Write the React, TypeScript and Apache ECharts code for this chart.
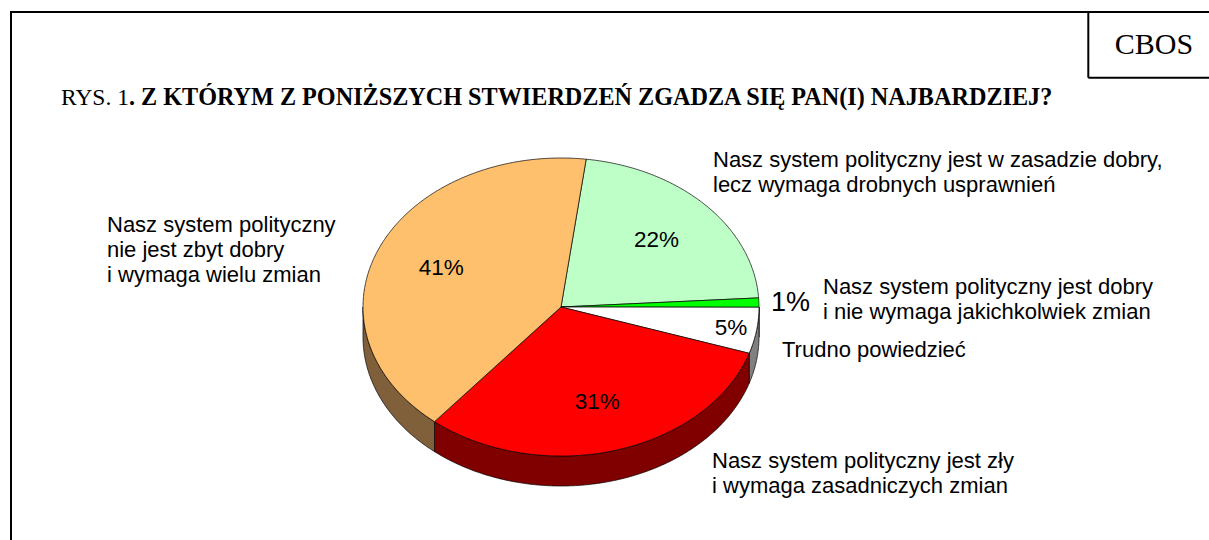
import React, { useEffect, useRef } from "react";
import * as echarts from "echarts";

// ---- data ----
const categories = [
  "Nasz system polityczny jest w zasadzie dobry, lecz wymaga drobnych usprawnień",
  "Nasz system polityczny jest dobry i nie wymaga jakichkolwiek zmian",
  "Trudno powiedzieć",
  "Nasz system polityczny jest zły i wymaga zasadniczych zmian",
  "Nasz system polityczny nie jest zbyt dobry i wymaga wielu zmian",
];
const values = [22, 1, 5, 31, 41];
const labelLines = [
  ["Nasz system polityczny jest w zasadzie dobry,", "lecz wymaga drobnych usprawnień"],
  ["Nasz system polityczny jest dobry", "i nie wymaga jakichkolwiek zmian"],
  ["Trudno powiedzieć"],
  ["Nasz system polityczny jest zły", "i wymaga zasadniczych zmian"],
  ["Nasz system polityczny", "nie jest zbyt dobry", "i wymaga wielu zmian"],
];
const titleNumber = "RYS. 1";
const titleText = ". Z KTÓRYM Z PONIŻSZYCH STWIERDZEŃ ZGADZA SIĘ PAN(I) NAJBARDZIEJ?";
const sourceText = "CBOS";

// ---- styles ----
const topColors = ["#BEFFC8", "#00FF00", "#FFFFFF", "#FF0000", "#FFC06E"];
const sideColors = ["#5F8064", "#008000", "#808080", "#800000", "#80603A"];
const labelPos: [number, number][] = [
  [713, 147],
  [823, 274],
  [782, 337],
  [712, 448],
  [107, 212],
];

const CX = 561;
const CY = 307;
const RX = 198;
const RY = 149;
const DEPTH = 30;
const START_ANGLE = 7.3;
const SANS = "'Liberation Sans', Arial, sans-serif";
const SERIF = "'Liberation Serif', 'Times New Roman', serif";

const D = Math.PI / 180;
function pt(a: number, r = 1, dy = 0): [number, number] {
  return [CX + RX * r * Math.sin(a * D), CY - RY * r * Math.cos(a * D) + dy];
}
function arc(a0: number, a1: number, dy: number): [number, number][] {
  const n = Math.max(2, Math.ceil(Math.abs(a1 - a0) / 0.5));
  const out: [number, number][] = [];
  for (let k = 0; k <= n; k++) out.push(pt(a0 + ((a1 - a0) * k) / n, 1, dy));
  return out;
}

export default function App() {
  const ref = useRef<HTMLDivElement>(null);
  useEffect(() => {
    if (!ref.current) return;
    const chart = echarts.init(ref.current, null, { renderer: "svg" });
    const total = values.reduce((s, v) => s + v, 0);

    const renderItem = (params: any, api: any) => {
      const i = params.dataIndex;
      const v = api.value(0);
      let start = START_ANGLE;
      for (let j = 0; j < i; j++) start += (values[j] / total) * 360;
      const end = start + (v / total) * 360;
      const children: any[] = [];
      for (const [lo, hi] of [[90, 270], [450, 630]]) {
        const s0 = Math.max(start, lo);
        const s1 = Math.min(end, hi);
        if (s1 > s0) {
          children.push({
            type: "polygon",
            shape: { points: arc(s0, s1, 0).concat(arc(s1, s0, DEPTH)) },
            style: { fill: sideColors[i], stroke: "#000", lineWidth: 0.7, lineJoin: "round" },
          });
        }
      }
      children.push({
        type: "polygon",
        shape: { points: [[CX, CY] as [number, number]].concat(arc(start, end, 0)) },
        style: { fill: topColors[i], stroke: "#000", lineWidth: 0.7, lineJoin: "round" },
      });
      const pct = Math.round((v / total) * 100);
      const mid = (start + end) / 2;
      const r = pct >= 10 ? 0.66 : pct >= 2 ? 0.87 : 1.16;
      const fs = pct >= 2 ? 22.5 : 27;
      const [lx, ly] = pt(mid, r);
      children.push({
        type: "text",
        x: lx,
        y: ly,
        style: {
          text: pct + "%",
          fontSize: fs,
          fontFamily: SANS,
          fill: "#000",
          align: "center",
          verticalAlign: "middle",
        },
      });
      return { type: "group", children };
    };

    const graphics: any[] = [
      { type: "line", shape: { x1: 11, y1: 11, x2: 11, y2: 540 }, style: { stroke: "#000", lineWidth: 2 } },
      { type: "line", shape: { x1: 10, y1: 12, x2: 1209, y2: 12 }, style: { stroke: "#000", lineWidth: 2 } },
      { type: "line", shape: { x1: 1088.3, y1: 12, x2: 1088.3, y2: 77.7 }, style: { stroke: "#000", lineWidth: 2 } },
      { type: "line", shape: { x1: 1088.3, y1: 77.7, x2: 1209, y2: 77.7 }, style: { stroke: "#000", lineWidth: 2 } },
      {
        type: "text",
        x: 1154,
        y: 43,
        style: { text: sourceText, fontSize: 30, fontFamily: SERIF, fill: "#000", align: "center", verticalAlign: "middle" },
      },
      {
        type: "text",
        x: 61,
        y: 96.5,
        style: {
          text: "{r|" + titleNumber + "}{b|" + titleText + "}",
          fontSize: 24,
          fontFamily: SERIF,
          fill: "#000",
          align: "left",
          verticalAlign: "middle",
          rich: {
            r: { fontSize: 23.5, fontFamily: SERIF, fontWeight: "normal", fill: "#000" },
            b: { fontSize: 24.2, fontFamily: SERIF, fontWeight: "bold", fill: "#000" },
          },
        },
      },
    ];
    labelLines.forEach((lines, i) => {
      graphics.push({
        type: "text",
        x: labelPos[i][0],
        y: labelPos[i][1],
        style: {
          text: lines.join("\n"),
          fontSize: 22,
          lineHeight: 25,
          fontFamily: SANS,
          fill: "#000",
          align: "left",
          verticalAlign: "top",
        },
      });
    });

    chart.setOption({
      animation: false,
      backgroundColor: "#fff",
      series: [
        {
          type: "custom",
          coordinateSystem: "none",
          silent: true,
          data: values.map((v, i) => ({ name: categories[i], value: v })),
          renderItem,
        },
      ],
      graphic: graphics,
    });
    return () => chart.dispose();
  }, []);
  return (
    <div
      ref={ref}
      style={{ position: "fixed", left: 0, top: 0, width: 1209, height: 540, background: "#fff" }}
    />
  );
}
